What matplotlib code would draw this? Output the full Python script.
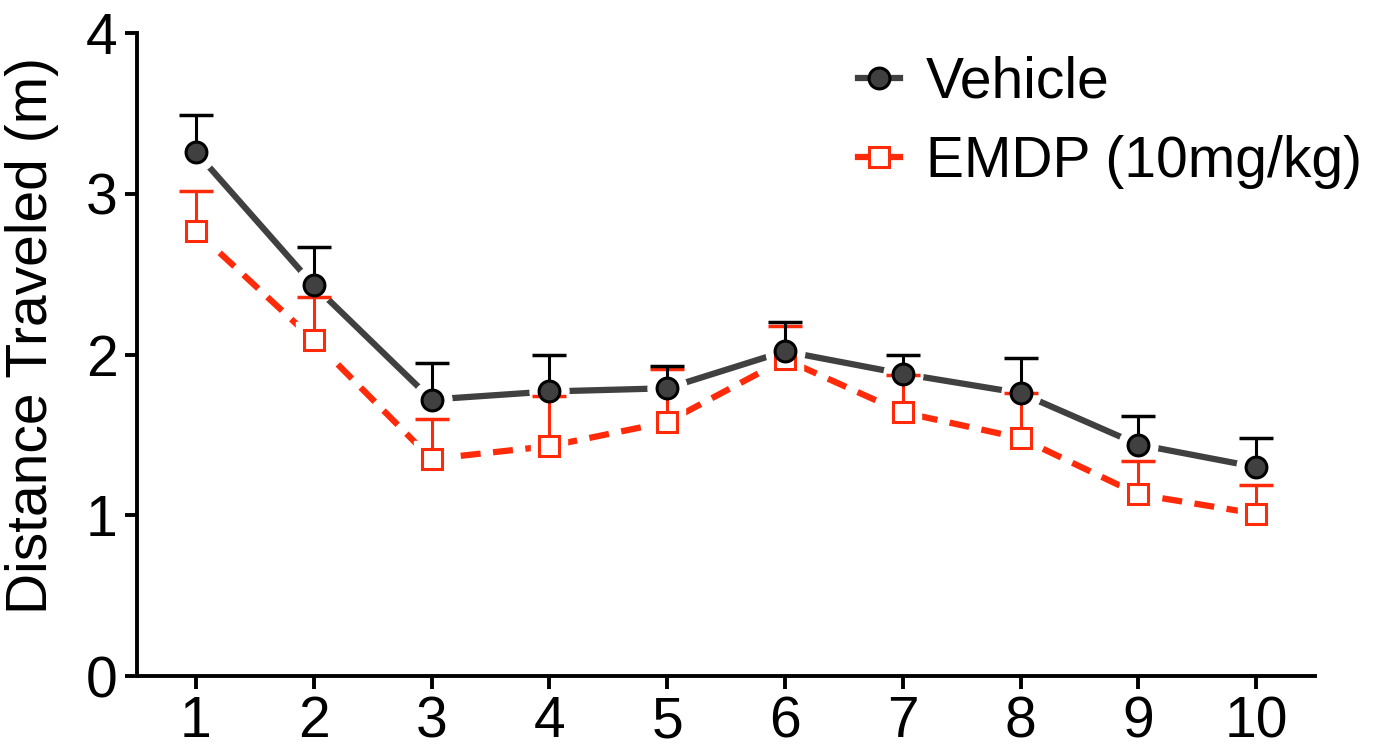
import numpy as np
import matplotlib.pyplot as plt

plt.rcParams['font.family'] = ['Liberation Sans', 'DejaVu Sans']

days = [1, 2, 3, 4, 5, 6, 7, 8, 9, 10]
vehicle = [3.26, 2.43, 1.72, 1.77, 1.79, 2.02, 1.88, 1.76, 1.44, 1.30]
vehicle_sem = [0.23, 0.24, 0.23, 0.23, 0.14, 0.18, 0.12, 0.22, 0.18, 0.18]
emdp = [2.77, 2.09, 1.35, 1.43, 1.58, 1.97, 1.64, 1.48, 1.13, 1.01]
emdp_sem = [0.25, 0.27, 0.25, 0.31, 0.33, 0.21, 0.23, 0.28, 0.21, 0.18]

grey = '#404040'
red = '#ff2a0a'

fig = plt.figure(figsize=(13.78, 7.49), dpi=100)
ax = fig.add_axes([137 / 1378, 1 - 676 / 749, (1315 - 137) / 1378, (676 - 33) / 749])

# lines
ax.plot(days, vehicle, color=grey, lw=4.5, solid_capstyle='round', zorder=2)
ax.plot(days, emdp, color=red, lw=4.5, dashes=(3.2, 2.0), zorder=2)

# white halo so lines stop short of markers
ax.plot(days, vehicle, 'o', ms=28, mfc='white', mec='white', zorder=3)
ax.plot(days, emdp, 's', ms=26, mfc='white', mec='white', zorder=3)

# error bars (upper only, cap only on top)
v_top = np.array(vehicle) + np.array(vehicle_sem)
e_top = np.array(emdp) + np.array(emdp_sem)
ax.vlines(days, emdp, e_top, color=red, lw=2.2, zorder=4)
ax.plot(days, e_top, '_', ms=24, mew=2.5, color=red, zorder=4)
ax.vlines(days, vehicle, v_top, color='black', lw=2.2, zorder=4)
ax.plot(days, v_top, '_', ms=24, mew=2.5, color='black', zorder=4)

# markers
ax.plot(days, emdp, 's', ms=15, mfc='white', mec=red, mew=2.2, zorder=5)
ax.plot(days, vehicle, 'o', ms=15, mfc=grey, mec='black', mew=2.2, zorder=6)

# legend handles
h1, = ax.plot([], [], color=grey, lw=4.5, marker='o', ms=15, mfc=grey, mec='black', mew=2.2)
h2, = ax.plot([], [], color=red, lw=4.5, marker='s', ms=15, mfc='white', mec=red, mew=2.2)
ax.legend([h1, h2], ['Vehicle', 'EMDP (10mg/kg)'], loc='upper right',
          bbox_to_anchor=(1.04, 0.965), frameon=False, fontsize=41,
          handlelength=0.75, handletextpad=0.45, labelspacing=0.45,
          borderpad=0, borderaxespad=0)

ax.set_xlim(0.5, 10.5)
ax.set_ylim(0, 4)
ax.set_xticks(days)
ax.set_yticks([0, 1, 2, 3, 4])
ax.set_ylabel('Distance Traveled (m)', fontsize=41)
ax.yaxis.set_label_coords(-0.066, 0.53)

for s in ['top', 'right']:
    ax.spines[s].set_visible(False)
for s in ['left', 'bottom']:
    ax.spines[s].set_linewidth(2.8)
ax.tick_params(axis='both', labelsize=41, width=2.8, length=9, direction='out', pad=5)

fig.savefig('out.png', dpi=100)
